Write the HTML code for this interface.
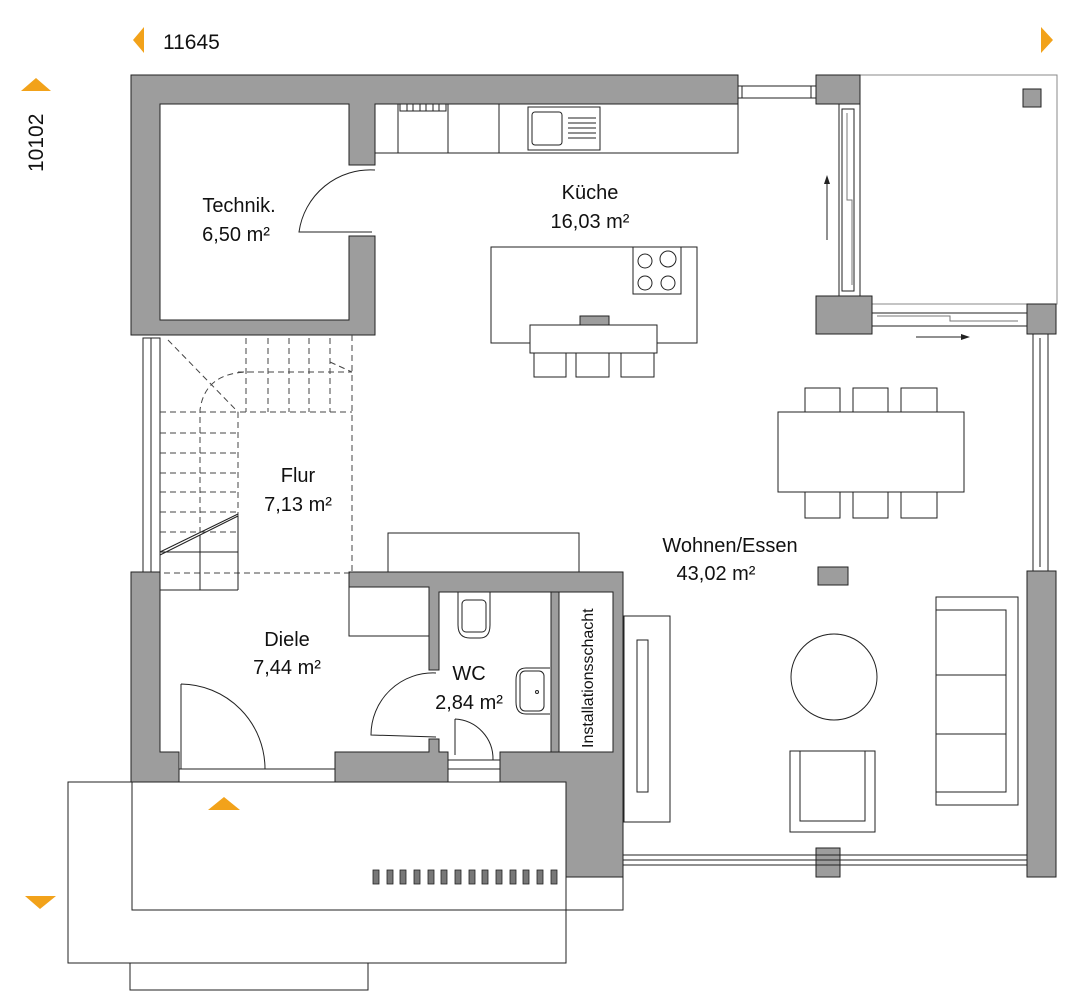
<!DOCTYPE html>
<html><head><meta charset="utf-8"><style>
html,body{margin:0;padding:0;background:#fff;width:1080px;height:1004px;overflow:hidden}
svg{display:block}
text{font-family:"Liberation Sans",sans-serif;fill:#111}
</style></head><body>
<svg width="1080" height="1004" viewBox="0 0 1080 1004" xmlns="http://www.w3.org/2000/svg">
<g fill="none" stroke="#222" stroke-width="1">
<!-- porch -->
<rect x="68" y="782" width="498" height="181"/>
<rect x="130" y="963" width="238" height="27"/>
<rect x="132" y="782" width="491" height="128"/>
<!-- terrace -->
<rect x="860" y="75" width="197" height="229" stroke="#888"/>
</g>
<!-- walls -->
<g fill="#9d9d9d" stroke="#222" stroke-width="1">
<path d="M131 75 H738 V104 H375 V165 H349 V104 H160 V320 H349 V236 H375 V335 H131 Z"/>
<rect x="816" y="75" width="44" height="29"/>
<rect x="1023" y="89" width="18" height="18"/>
<rect x="816" y="296" width="56" height="38"/>
<rect x="1027" y="304" width="29" height="30"/>
<rect x="1027" y="571" width="29" height="306"/>
<rect x="816" y="848" width="24" height="29"/>
<path d="M131 572 H160 V752 H179 V782 H131 Z"/>
<path d="M349 572 H623 V877 H566 V782 H500 V752 H551 V592 H439 V670 H429 V587 H349 Z"/>
<rect x="551" y="592" width="8" height="160"/>
<path d="M335 752 H429 V739 H439 V752 H448 V782 H335 Z"/>
<rect x="818" y="567" width="30" height="18"/>
<rect x="580" y="316" width="29" height="19"/>
</g>
<g fill="#fff" stroke="#222" stroke-width="1">
<rect x="559" y="592" width="54" height="160"/>
</g>
<!-- windows -->
<g fill="none" stroke="#222" stroke-width="1">
<rect x="738" y="86" width="78" height="12"/>
<line x1="742" y1="86" x2="742" y2="98"/><line x1="811" y1="86" x2="811" y2="98"/>
<rect x="839" y="104" width="21" height="192"/>
<rect x="842" y="109" width="12" height="182"/>
<path d="M847 113 V200 H852 V285" stroke="#777"/>
<rect x="872" y="313" width="155" height="13"/>
<path d="M877 316 H950 V321 H1018" stroke="#777"/>
<rect x="1033" y="334" width="15" height="237"/>
<line x1="1040" y1="338" x2="1040" y2="567"/>
<rect x="623" y="855" width="404" height="10"/>
<line x1="623" y1="860" x2="1027" y2="860"/>
<rect x="143" y="338" width="17" height="234"/>
<line x1="151" y1="338" x2="151" y2="572"/>
<rect x="179" y="769" width="156" height="13"/>
<rect x="448" y="760" width="52" height="22"/>
<line x1="448" y1="769" x2="500" y2="769"/>
<!-- arrows -->
<line x1="827" y1="240" x2="827" y2="180"/>
<line x1="916" y1="337" x2="962" y2="337"/>
</g>
<path d="M827 175 l-3 9 h6 z M970 337 l-9 -3 v6 z" fill="#222"/>
<!-- doors -->
<g fill="none" stroke="#222" stroke-width="1">
<path d="M375 170 A72 72 0 0 0 299 232 H372"/>
<path d="M181 684 V769 M181 684 A85 85 0 0 1 265 769"/>
<path d="M436 673 A62 62 0 0 0 371 735 L436 737"/>
<path d="M455 719 V755 M455 719 A40 40 0 0 1 493 760"/>
</g>
<!-- kitchen -->
<g fill="none" stroke="#222" stroke-width="1">
<path d="M375 104 V153 H738 V104"/>
<line x1="398" y1="104" x2="398" y2="153"/>
<line x1="448" y1="104" x2="448" y2="153"/>
<line x1="499" y1="104" x2="499" y2="153"/>
<rect x="528" y="107" width="72" height="43"/>
<rect x="532" y="112" width="30" height="33" rx="3"/>
<path d="M568 118h28M568 123h28M568 128h28M568 133h28M568 138h28"/>
<path d="M400 104v7h46v-7M407 104v7M413 104v7M420 104v7M426 104v7M433 104v7M439 104v7"/>
<rect x="491" y="247" width="206" height="96"/>
<rect x="633" y="247" width="48" height="47"/>
<circle cx="645" cy="261" r="7"/><circle cx="668" cy="259" r="8"/>
<circle cx="645" cy="283" r="7"/><circle cx="668" cy="283" r="7"/>
<rect x="530" y="325" width="127" height="28" fill="#fff"/>
<rect x="534" y="353" width="32" height="24"/><rect x="576" y="353" width="33" height="24"/><rect x="621" y="353" width="33" height="24"/>
<!-- dining -->
<rect x="778" y="412" width="186" height="80"/>
<rect x="805" y="388" width="35" height="24"/><rect x="853" y="388" width="35" height="24"/><rect x="901" y="388" width="36" height="24"/>
<rect x="805" y="492" width="35" height="26"/><rect x="853" y="492" width="35" height="26"/><rect x="901" y="492" width="36" height="26"/>
<rect x="388" y="533" width="191" height="39"/>
<circle cx="834" cy="677" r="43"/>
<rect x="936" y="597" width="82" height="208"/>
<rect x="936" y="610" width="70" height="182"/>
<line x1="936" y1="675" x2="1006" y2="675"/><line x1="936" y1="734" x2="1006" y2="734"/>
<rect x="790" y="751" width="85" height="81"/>
<rect x="800" y="751" width="65" height="70"/>
<rect x="624" y="616" width="46" height="206"/>
<rect x="637" y="640" width="11" height="152"/>
<!-- WC -->
<path d="M458 592 V625 Q458 638 470 638 H480 Q490 638 490 625 V592"/>
<rect x="462" y="600" width="24" height="32" rx="4"/>
<path d="M550 668 H526 Q516 668 516 680 V702 Q516 714 526 714 H550"/>
<rect x="520" y="671" width="24" height="40" rx="5"/>
<circle cx="537" cy="692" r="1.5"/>
<!-- stairs -->
<g stroke-dasharray="6 4" stroke="#444">
<path d="M352 335 V573 H160"/>
<path d="M160 412 H352 M238 372 H352 M238 412 V573"/>
<path d="M160 433 H238 M160 453 H238 M160 473 H238 M160 492 H238 M160 512 H238 M160 532 H238"/>
<path d="M246 338 V412 M268 338 V412 M289 338 V412 M309 338 V412 M330 338 V412"/>
<path d="M200 573 V410 Q205 372 250 372 M168 340 L238 412 M330 362 L352 372"/>
</g>
<path d="M160 555 L238 516 M160 552 L238 514 M160 552 H238 M238 516 V590 M200 535 V590 M160 590 H238"/>
<rect x="349" y="587" width="80" height="49"/>
</g>
<!-- vents -->
<g fill="#777" stroke="#222" stroke-width="0.8">
<rect x="373" y="870" width="6" height="14"/><rect x="387" y="870" width="6" height="14"/><rect x="400" y="870" width="6" height="14"/><rect x="414" y="870" width="6" height="14"/><rect x="428" y="870" width="6" height="14"/><rect x="441" y="870" width="6" height="14"/><rect x="455" y="870" width="6" height="14"/><rect x="469" y="870" width="6" height="14"/><rect x="482" y="870" width="6" height="14"/><rect x="496" y="870" width="6" height="14"/><rect x="510" y="870" width="6" height="14"/><rect x="523" y="870" width="6" height="14"/><rect x="537" y="870" width="6" height="14"/><rect x="551" y="870" width="6" height="14"/>
</g>
<!-- orange markers -->
<g fill="#f2a21a">
<path d="M133 40 L144 27 V53 Z"/>
<path d="M1053 40 L1041 27 V53 Z"/>
<path d="M21 91 L36 78 L51 91 Z"/>
<path d="M25 896 L40 909 L56 896 Z"/>
<path d="M208 810 L224 797 L240 810 Z"/>
</g>
<text x="163" y="49" font-size="21">11645</text>
<text transform="translate(43,172) rotate(-90)" font-size="21">10102</text>
<g font-size="20" text-anchor="middle">
<text x="239" y="212">Technik.</text><text x="236" y="241">6,50 m²</text>
<text x="590" y="199">Küche</text><text x="590" y="228">16,03 m²</text>
<text x="298" y="482">Flur</text><text x="298" y="511">7,13 m²</text>
<text x="287" y="646">Diele</text><text x="287" y="674">7,44 m²</text>
<text x="469" y="680">WC</text><text x="469" y="709">2,84 m²</text>
<text x="730" y="552">Wohnen/Essen</text><text x="716" y="580">43,02 m²</text>
</g>
<text transform="translate(593,748) rotate(-90)" font-size="16">Installationsschacht</text>
</svg>
</body></html>
